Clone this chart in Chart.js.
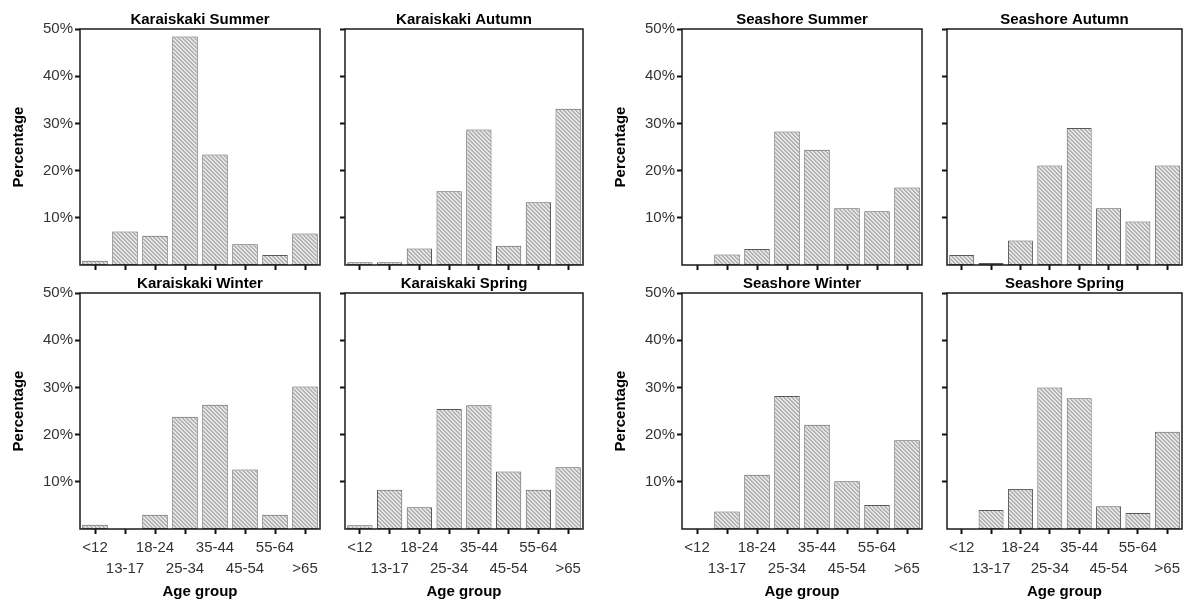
<!DOCTYPE html>
<html>
<head>
<meta charset="utf-8">
<script src="https://cdn.jsdelivr.net/npm/chart.js@4.4.1/dist/chart.umd.min.js"></script>
<style>
  body { margin: 0; background: #fff; }
  #wrap { position: relative; width: 1186px; height: 603px; overflow: hidden; }
  #wrap canvas { position: absolute; }
</style>
</head>
<body>
<div id="wrap"></div>
<script>
const ageGroups = ['<12', '13-17', '18-24', '25-34', '35-44', '45-54', '55-64', '>65'];
const yTicks = [10, 20, 30, 40, 50];

const karaiskakiSummer = [0.9, 7.1, 6.2, 48.4, 23.4, 4.4, 2.1, 6.7];
const karaiskakiAutumn = [0.6, 0.6, 3.5, 15.6, 28.7, 4.1, 13.3, 33.1];
const karaiskakiWinter = [0.9, 0, 3.0, 23.8, 26.3, 12.6, 3.0, 30.2];
const karaiskakiSpring = [0.8, 8.3, 4.6, 25.4, 26.2, 12.2, 8.3, 13.1];
const seashoreSummer = [0, 2.2, 3.4, 28.3, 24.4, 12.0, 11.4, 16.4];
const seashoreAutumn = [2.1, 0.4, 5.2, 21.1, 29.0, 12.0, 9.2, 21.1];
const seashoreWinter = [0, 3.7, 11.5, 28.2, 22.1, 10.1, 5.1, 18.8];
const seashoreSpring = [0, 4.0, 8.5, 30.0, 27.7, 4.8, 3.4, 20.6];

const FONT = "'Liberation Sans', Arial, sans-serif";

// panel layout: canvas box, left panels carry the y labels, bottom row the x labels
const panels = [
  { title: 'Karaiskaki Summer', data: karaiskakiSummer, left: 0,   top: 0,   w: 324, yLabels: true,  xLabels: false },
  { title: 'Karaiskaki Autumn', data: karaiskakiAutumn, left: 337, top: 0,   w: 250, yLabels: false, xLabels: false },
  { title: 'Seashore Summer',   data: seashoreSummer,   left: 602, top: 0,   w: 324, yLabels: true,  xLabels: false },
  { title: 'Seashore Autumn',   data: seashoreAutumn,   left: 939, top: 0,   w: 247, yLabels: false, xLabels: false },
  { title: 'Karaiskaki Winter', data: karaiskakiWinter, left: 0,   top: 268, w: 324, yLabels: true,  xLabels: true },
  { title: 'Karaiskaki Spring', data: karaiskakiSpring, left: 337, top: 268, w: 250, yLabels: false, xLabels: true },
  { title: 'Seashore Winter',   data: seashoreWinter,   left: 602, top: 268, w: 324, yLabels: true,  xLabels: true },
  { title: 'Seashore Spring',   data: seashoreSpring,   left: 939, top: 268, w: 247, yLabels: false, xLabels: true }
];

// diagonal hatch fill
function makeHatch() {
  const c = document.createElement('canvas');
  c.width = 4; c.height = 4;
  const g = c.getContext('2d');
  g.fillStyle = '#e6e6e6';
  g.fillRect(0, 0, 4, 4);
  g.fillStyle = '#b2b2b2';
  for (let i = 0; i < 4; i++) {
    g.fillRect(i, i, 1, 1);
    g.fillRect((i + 1) % 4, i, 1, 1);
  }
  return g.createPattern(c, 'repeat');
}
const hatch = makeHatch();

// box round the plot + title centred over the plot area
const framePlugin = {
  id: 'frame',
  afterDatasetsDraw(chart, args, opts) {
    const { ctx, chartArea: a } = chart;
    ctx.save();
    ctx.strokeStyle = '#1a1a1a';
    ctx.lineWidth = 1.5;
    ctx.strokeRect(a.left, a.top, a.right - a.left, a.bottom - a.top);
    ctx.fillStyle = '#000';
    ctx.font = 'bold 15px ' + FONT;
    ctx.textAlign = 'center';
    ctx.textBaseline = 'alphabetic';
    ctx.fillText(opts.text, (a.left + a.right) / 2, a.top - 5);
    ctx.restore();
  }
};

const wrap = document.getElementById('wrap');

panels.forEach(function (p) {
  const h = p.xLabels ? 335 : 277;
  const canvas = document.createElement('canvas');
  canvas.width = p.w;
  canvas.height = h;
  canvas.style.left = p.left + 'px';
  canvas.style.top = p.top + 'px';
  wrap.appendChild(canvas);

  new Chart(canvas, {
    type: 'bar',
    data: {
      labels: ageGroups,
      datasets: [{
        data: p.data,
        backgroundColor: hatch,
        borderColor: '#5a5a5a',
        borderWidth: ctx => (ctx.raw > 0 ? 1 : 0),
        borderSkipped: false,
        barPercentage: 0.85,
        categoryPercentage: 1
      }]
    },
    options: {
      responsive: false,
      animation: false,
      events: [],
      layout: { padding: { left: 0, right: 4, top: p.xLabels ? 25 : 29, bottom: 0 } },
      plugins: {
        legend: { display: false },
        tooltip: { enabled: false },
        title: { display: false },
        frame: { text: p.title }
      },
      scales: {
        x: {
          offset: true,
          border: { display: false },
          grid: {
            display: true,
            offset: false,
            drawOnChartArea: false,
            drawTicks: true,
            tickLength: 5,
            tickWidth: 2,
            tickColor: '#111'
          },
          ticks: {
            display: p.xLabels,
            autoSkip: false,
            maxRotation: 0,
            padding: 3,
            color: '#333',
            font: { family: FONT, size: 15, lineHeight: 1.42 },
            callback: function (value, index) {
              const lab = ageGroups[index];
              return index % 2 === 0 ? [lab, ''] : ['', lab];
            }
          },
          title: {
            display: p.xLabels,
            text: 'Age group',
            color: '#000',
            font: { family: FONT, size: 15, weight: 'bold' },
            padding: { top: 0, bottom: 2 }
          },
          afterFit: s => { s.height = p.xLabels ? 74 : 12; }
        },
        y: {
          min: 0,
          max: 50,
          border: { display: false },
          grid: {
            display: true,
            drawOnChartArea: false,
            drawTicks: true,
            tickLength: 5,
            tickWidth: 2,
            tickColor: '#111'
          },
          afterBuildTicks: axis => { axis.ticks = yTicks.map(v => ({ value: v })); },
          ticks: {
            display: p.yLabels,
            padding: 2,
            color: '#333',
            font: { family: FONT, size: 15 },
            callback: v => v + '%'
          },
          title: {
            display: p.yLabels,
            text: 'Percentage',
            color: '#000',
            font: { family: FONT, size: 15, weight: 'bold' },
            padding: { top: 10, bottom: 0 }
          },
          afterFit: s => { s.width = p.yLabels ? 80 : 8; }
        }
      }
    },
    plugins: [framePlugin]
  });
});
</script>
</body>
</html>
